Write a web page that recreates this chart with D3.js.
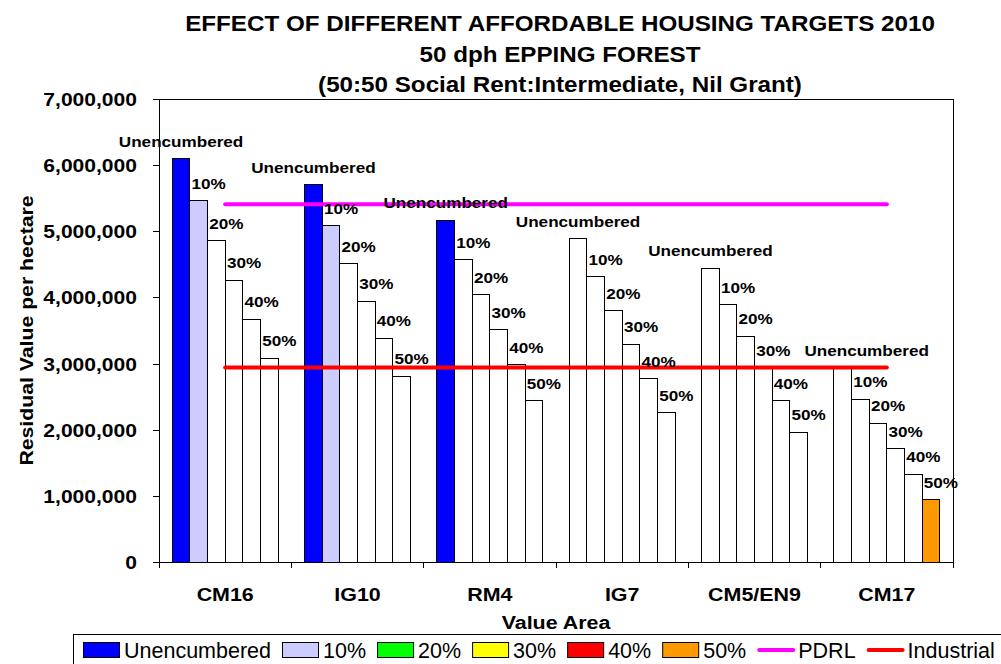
<!DOCTYPE html>
<html>
<head>
<meta charset="utf-8">
<title>Affordable Housing Targets 2010</title>
<script src="https://d3js.org/d3.v7.min.js"></script>
<style>
body {
	margin: 0;
	background-color: white;
}
svg {
	font-family: "Liberation Sans", Arial, sans-serif;
	font-weight: bold;
}
.axis path, .axis line {
	stroke: black;
	shape-rendering: crispEdges;
}
.bar {
	stroke: black;
	stroke-width: 1;
	shape-rendering: crispEdges;
}
.ref {
	fill: none;
	stroke-width: 4;
	stroke-linecap: round;
}
.legend text {
	font-weight: normal;
}
</style>
<script>
/* globals d3, window */
(function() {
"use strict";

// value areas and affordable housing scenarios
const areas = ["CM16", "IG10", "RM4", "IG7", "CM5/EN9", "CM17"];
const seriesNames = ["Unencumbered", "10%", "20%", "30%", "40%", "50%"];

// residual value per hectare, one value per area
const unencumbered = [6100000, 5700000, 5170000, 4890000, 4440000, 2930000];
const target10 = [5460000, 5080000, 4570000, 4310000, 3890000, 2460000];
const target20 = [4860000, 4510000, 4040000, 3800000, 3410000, 2100000];
const target30 = [4260000, 3940000, 3510000, 3290000, 2930000, 1710000];
const target40 = [3670000, 3380000, 2980000, 2770000, 2440000, 1330000];
const target50 = [3080000, 2810000, 2440000, 2260000, 1960000, 940000];

// benchmark lines
const pdrl = [5410000, 5410000, 5410000, 5410000, 5410000, 5410000];
const industrial = [2940000, 2940000, 2940000, 2940000, 2940000, 2940000];

const yTicks = [0, 1000000, 2000000, 3000000, 4000000, 5000000, 6000000, 7000000];

// bars that keep their series colour, the rest are drawn white
const shaded = [
	["CM16", "Unencumbered"], ["CM16", "10%"],
	["IG10", "Unencumbered"], ["IG10", "10%"],
	["RM4", "Unencumbered"],
	["CM17", "50%"],
];

const titleLines = [
	"EFFECT OF DIFFERENT AFFORDABLE HOUSING TARGETS 2010",
	"50 dph EPPING FOREST",
	"(50:50 Social Rent:Intermediate, Nil Grant)",
];

const colors = {
	"Unencumbered": "#0000ff",
	"10%": "#ccccff",
	"20%": "#00ff00",
	"30%": "#ffff00",
	"40%": "#ff0000",
	"50%": "#ff9900",
	"PDRL": "#ff00ff",
	"Industrial": "#ff0000",
};

function stretchText(parent, x, y, str, size, anchor, sx, rotate)
{
	return parent.append("text")
		.attr("transform", "translate(" + x + "," + y + ")" +
			(rotate ? " rotate(" + rotate + ")" : "") + " scale(" + sx + ",1)")
		.attr("text-anchor", anchor)
		.style("font-size", size + "px")
		.text(str);
}

function main()
{
	const width = 1001, height = 664;
	const plot = {left: 159, right: 953, top: 99, bottom: 562};

	const svg = d3.select("body").append("svg")
		.attr("width", width)
		.attr("height", height);

	const values = [unencumbered, target10, target20, target30, target40, target50];
	const data = [];
	areas.forEach((area, i) => {
		seriesNames.forEach((s, j) => data.push({area: area, series: s, value: values[j][i]}));
	});
	const isShaded = d => shaded.some(([a, s]) => a === d.area && s === d.series);

	const x = d3.scaleBand(areas, [plot.left, plot.right]);
	const xInner = d3.scaleBand(seriesNames, [0, x.bandwidth()]).paddingOuter(0.75);
	const y = d3.scaleLinear([0, 7000000], [plot.bottom, plot.top]);

	// title
	titleLines.forEach((t, i) => stretchText(svg, 560, 31 + i * 30.5, t, 22, "middle", 1.1));

	// plot frame
	svg.append("rect")
		.attr("x", plot.left)
		.attr("y", plot.top)
		.attr("width", plot.right - plot.left)
		.attr("height", plot.bottom - plot.top)
		.attr("fill", "white")
		.attr("stroke", "black")
		.attr("shape-rendering", "crispEdges");

	// y axis
	const gY = svg.append("g")
		.attr("class", "axis")
		.attr("transform", "translate(" + plot.left + ",0)")
		.call(d3.axisLeft(y).tickValues(yTicks).tickFormat(d3.format(",")).tickSizeOuter(0));
	gY.selectAll("text")
		.attr("x", null)
		.attr("dy", "0.36em")
		.attr("transform", "translate(-22,0) scale(1.17,1)")
		.style("font-size", "18px")
		.attr("fill", "black");

	// x axis ticks on category boundaries
	const gX = svg.append("g").attr("class", "axis");
	gX.selectAll("line")
		.data(areas.map(a => x(a)).concat([plot.right]))
		.join("line")
		.attr("x1", d => d).attr("x2", d => d)
		.attr("y1", plot.bottom).attr("y2", plot.bottom + 6);
	areas.forEach(a => stretchText(gX, x(a) + x.bandwidth() / 2, 601, a, 18, "middle", 1.19));

	// axis titles
	stretchText(svg, (plot.left + plot.right) / 2, 629, "Value Area", 18, "middle", 1.19);
	stretchText(svg, 33, (plot.top + plot.bottom) / 2, "Residual Value per hectare", 18, "middle", 1.18, -90);

	// bars
	svg.append("g")
		.selectAll("rect")
		.data(data)
		.join("rect")
		.attr("class", "bar")
		.attr("x", d => x(d.area) + xInner(d.series))
		.attr("y", d => y(d.value))
		.attr("width", xInner.bandwidth())
		.attr("height", d => y(0) - y(d.value))
		.attr("fill", d => isShaded(d) ? colors[d.series] : "white");

	// benchmark lines
	const line = d3.line()
		.x((d, i) => x(areas[i]) + x.bandwidth() / 2)
		.y(d => y(d));
	svg.append("path").attr("class", "ref").attr("stroke", colors.PDRL).attr("d", line(pdrl));
	svg.append("path").attr("class", "ref").attr("stroke", colors.Industrial).attr("d", line(industrial));

	// data labels, nudged right when they would run into an earlier label
	const gL = svg.append("g");
	const placed = [];
	const labelSize = 14.5, labelSx = 1.18, labelGap = 14;
	data.forEach(d => {
		const cx = x(d.area) + xInner(d.series) + xInner.bandwidth() / 2;
		const dx = d.series === "Unencumbered" ? 0 : 10;
		const by = y(d.value) - 12;
		const t = stretchText(gL, cx + dx, by, d.series, labelSize, "middle", labelSx);
		const w = t.node().getComputedTextLength() * labelSx;
		let left = cx + dx - w / 2;
		const top = by - labelSize * 0.75, bottom = by + 2;
		let moved = true;
		while (moved) {
			moved = false;
			for (const b of placed) {
				if (top < b.bottom && bottom > b.top && left < b.right + labelGap && left + w > b.left) {
					left = b.right + labelGap;
					moved = true;
				}
			}
		}
		t.attr("transform", "translate(" + (left + w / 2) + "," + by + ") scale(" + labelSx + ",1)");
		placed.push({left: left, right: left + w, top: top, bottom: bottom});
	});

	// legend
	const legend = svg.append("g").attr("class", "legend");
	legend.append("rect")
		.attr("x", 73.5).attr("y", 634.5)
		.attr("width", 940).attr("height", 40)
		.attr("fill", "white").attr("stroke", "black");
	const items = seriesNames.concat(["PDRL", "Industrial"]);
	let lx = 83;
	items.forEach(name => {
		if (name === "PDRL" || name === "Industrial") {
			legend.append("line")
				.attr("x1", lx + 2).attr("x2", lx + 36)
				.attr("y1", 650).attr("y2", 650)
				.attr("stroke", colors[name])
				.attr("stroke-width", 4)
				.attr("stroke-linecap", "round");
		} else {
			legend.append("rect")
				.attr("x", lx + 0.5).attr("y", 642.5)
				.attr("width", 36).attr("height", 15)
				.attr("fill", colors[name])
				.attr("stroke", "black");
		}
		const t = legend.append("text")
			.attr("x", lx + 41).attr("y", 658)
			.style("font-size", "21.5px")
			.text(name);
		lx += 41 + t.node().getComputedTextLength() + 11;
	});
}
window.addEventListener("DOMContentLoaded", main);
})();
</script>
</head>
<body>
</body>
</html>
